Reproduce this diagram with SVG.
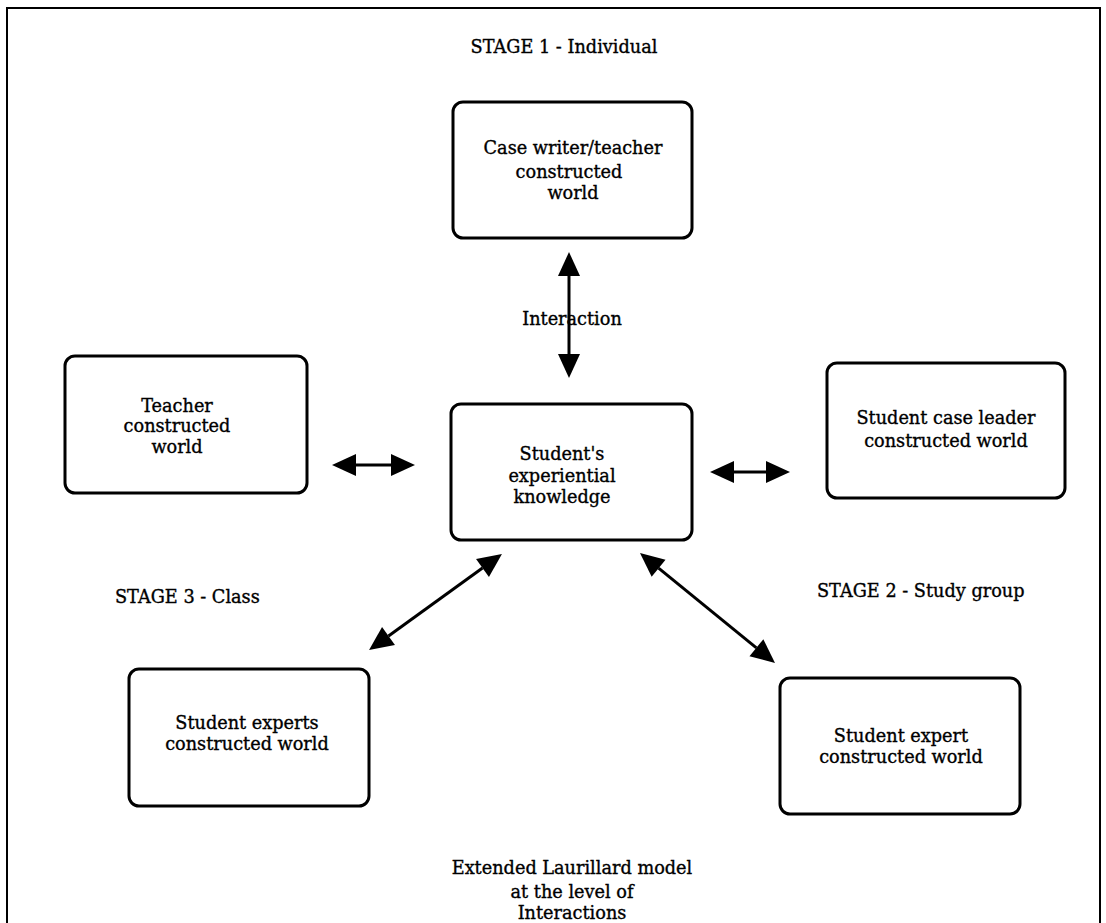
<svg xmlns="http://www.w3.org/2000/svg" width="1106" height="923" viewBox="0 0 1106 923">
  <style>
    .frame { fill: none; stroke: #000; stroke-width: 2; }
    .box { fill: #fff; stroke: #000; stroke-width: 3; }
    .lbl, .stage { font-family: "DejaVu Serif", "Liberation Serif", serif; font-size: 17.7px; fill: #000; stroke: #000; stroke-width: 0.35; }
    .lbl { text-anchor: middle; }
    .link { fill: none; stroke: #000; stroke-width: 3; marker-start: url(#head); marker-end: url(#head); }
  </style>
  <defs>
    <!-- solid triangular arrowhead; reference point sits on the base -->
    <marker id="head" markerUnits="userSpaceOnUse" markerWidth="24" markerHeight="22" refX="0" refY="11" orient="auto-start-reverse" overflow="visible">
      <path d="M0,0 L24,11 L0,22 Z" fill="#000"/>
    </marker>
  </defs>

  <rect width="1106" height="923" fill="#fff"/>

  <!-- outer frame, open at the bottom -->
  <path class="frame" d="M7,930 L7,8 L1100,8 L1100,930"/>

  <!-- stage captions -->
  <text class="stage" x="564" y="53" text-anchor="middle">STAGE 1 - Individual</text>
  <text class="stage" x="115" y="603">STAGE 3 - Class</text>
  <text class="stage" x="817" y="597">STAGE 2 - Study group</text>

  <g id="case-writer">
    <rect class="box" x="453" y="102" width="239" height="136" rx="10"/>
    <text class="lbl" x="573" y="154">Case writer/teacher</text>
    <text class="lbl" x="569" y="178">constructed</text>
    <text class="lbl" x="573" y="199">world</text>
  </g>

  <g id="student-knowledge">
    <rect class="box" x="451" y="404" width="241" height="136" rx="10"/>
    <text class="lbl" x="562" y="460">Student's</text>
    <text class="lbl" x="562" y="482">experiential</text>
    <text class="lbl" x="562" y="503">knowledge</text>
  </g>

  <g id="teacher">
    <rect class="box" x="65" y="356" width="242" height="137" rx="10"/>
    <text class="lbl" x="177" y="412">Teacher</text>
    <text class="lbl" x="177" y="432">constructed</text>
    <text class="lbl" x="177" y="453">world</text>
  </g>

  <g id="case-leader">
    <rect class="box" x="827" y="363" width="238" height="135" rx="10"/>
    <text class="lbl" x="946" y="424">Student case leader</text>
    <text class="lbl" x="946" y="447">constructed world</text>
  </g>

  <g id="student-experts">
    <rect class="box" x="129" y="669" width="240" height="137" rx="10"/>
    <text class="lbl" x="247" y="729">Student experts</text>
    <text class="lbl" x="247" y="750">constructed world</text>
  </g>

  <g id="student-expert">
    <rect class="box" x="780" y="678" width="240" height="136" rx="10"/>
    <text class="lbl" x="901" y="742">Student expert</text>
    <text class="lbl" x="901" y="763">constructed world</text>
  </g>

  <text class="lbl" x="572" y="325">Interaction</text>

  <g id="connectors">
    <path class="link" d="M569,276 L569,354"/>
    <path class="link" d="M356,465 L391,465"/>
    <path class="link" d="M734,472 L766,472"/>
    <path class="link" d="M482.5,568 L388.5,636"/>
    <path class="link" d="M658.6,568.2 L756.4,647.8"/>
  </g>

  <!-- caption -->
  <text class="lbl" x="572" y="874">Extended Laurillard model</text>
  <text class="lbl" x="572" y="898">at the level of</text>
  <text class="lbl" x="572" y="919">Interactions</text>
</svg>
